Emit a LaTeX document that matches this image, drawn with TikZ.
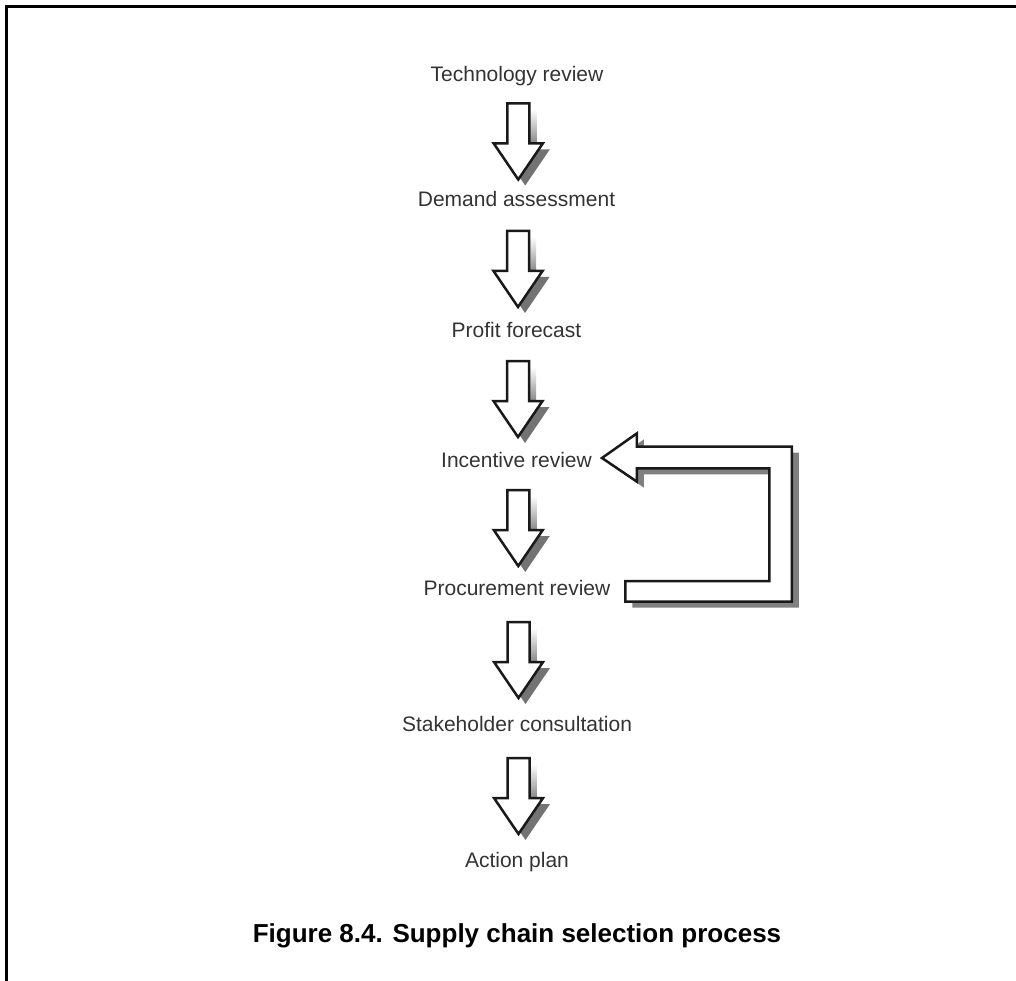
\documentclass[tikz,border=0pt]{standalone}
\usepackage{fontspec}
\setmainfont{Liberation Sans}
\usetikzlibrary{calc}

\tikzset{
  steplabel/.style={font=\fontsize{21}{25}\selectfont, text=black!80, inner sep=0pt, anchor=base},
  outline/.style={draw=black!90, line width=2.5pt, fill=white, line join=miter},
  shadowfill/.style={fill=black!50},
  pics/downarrow/.style={code={
    % shadow: shaft fades in, head solid
    \shade[top color=white, bottom color=black!55] (-4,-32) rectangle (18,8);
    \fill[black!55] (-17.5,8) -- (31.5,8) -- (7,44) -- cycle;
    % arrow body
    \path[outline] (-11,-38) -- (11,-38) -- (11,2) -- (24.5,2) -- (0,38)
      -- (-24.5,2) -- (-11,2) -- cycle;
  }}
}

\begin{document}
\begin{tikzpicture}[x=1pt, y=-1pt]

    \useasboundingbox (0,0) rectangle (1016,981);

    % Frame
    \draw[line width=2.4pt] (6.5,981) -- (6.5,6.5) -- (1016,6.5);

    % Steps
    \node[steplabel] (tech)    at (517,82)    {Technology review};
    \node[steplabel] (demand)  at (516.5,207) {Demand assessment};
    \node[steplabel] (profit)  at (516.5,337) {Profit forecast};
    \node[steplabel] (incent)  at (516.5,467) {Incentive review};
    \node[steplabel] (procure) at (517,595)   {Procurement review};
    \node[steplabel] (stake)   at (517,731)   {Stakeholder consultation};
    \node[steplabel] (action)  at (517,867)   {Action plan};

    % Down arrows between steps
    \foreach \a/\b in {tech/demand, demand/profit, profit/incent,
                       incent/procure, procure/stake, stake/action}
        \pic at ($(\a.base)!0.5!(\b.base)+(1.5,-3)$) {downarrow};

    % Feedback arrow: procurement back to incentive
    \begin{scope}[shift={($(incent.base east)+(10,-9)$)}]
        \fill[black!50] (7,6) -- (42,-18.7) -- (42,-5.3) -- (197,-5.3) -- (197,149.7)
            -- (30.4,149.7) -- (30.4,129) -- (174.4,129) -- (174.4,16.3)
            -- (42,16.3) -- (42,29.7) -- cycle;
        \path[outline] (0,0) -- (35,-24.7) -- (35,-11.3) -- (190,-11.3) -- (190,143.7)
            -- (23.4,143.7) -- (23.4,123) -- (167.4,123) -- (167.4,10.3)
            -- (35,10.3) -- (35,23.7) -- cycle;
    \end{scope}

    % Caption
    \node[font=\bfseries\fontsize{26}{30}\selectfont, anchor=base] (caption) at (517,942)
        {Figure 8.4. Supply chain selection process};

\end{tikzpicture}
\end{document}
